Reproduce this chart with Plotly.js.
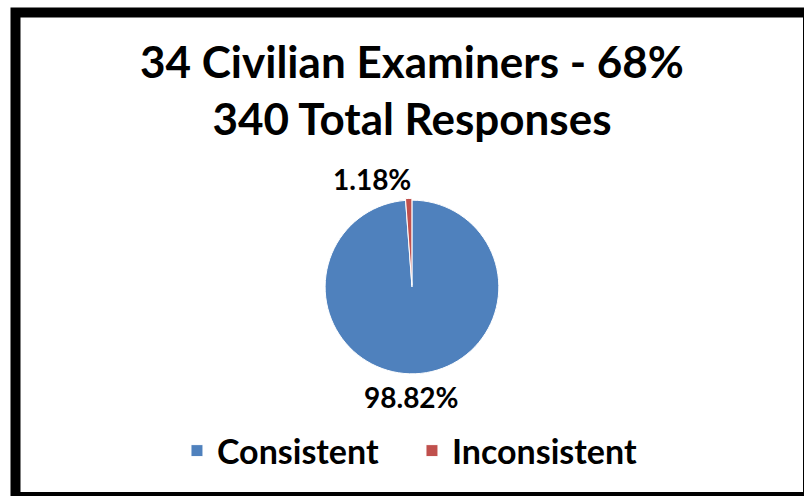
<!DOCTYPE html>
<html>
<head>
<meta charset="utf-8">
<script src="https://cdn.plot.ly/plotly-3.0.1.min.js"></script>
<style>
  html, body { margin: 0; padding: 0; background: #ffffff; }
  #chart { width: 804px; height: 496px; }
</style>
</head>
<body>
<div id="chart"></div>
<script>
const categories = ["Consistent", "Inconsistent"];
const responses = [336, 4];
const sliceColors = ["#4F81BD", "#C0504D"];
const titleLines = ["34 Civilian Examiners - 68%", "340 Total Responses"];

const FONT = "Lato, 'Open Sans', sans-serif";

const total = responses.reduce((a, b) => a + b, 0);
const pctText = responses.map(v => (100 * v / total).toFixed(2) + "%");

const trace = {
  type: "pie",
  labels: categories,
  values: responses,
  sort: false,
  direction: "clockwise",
  rotation: 0,
  pull: [0, 0.02],
  marker: { colors: sliceColors, line: { color: "#ffffff", width: 1 } },
  textinfo: "none",
  hoverinfo: "skip",
  domain: { x: [0.4022, 0.6226], y: [0.2428, 0.6000] }
};

const labelFont = { family: FONT, size: 28, color: "#000000", weight: "bold" };

const layout = {
  width: 804,
  height: 496,
  margin: { l: 0, r: 0, t: 0, b: 0 },
  paper_bgcolor: "#ffffff",
  plot_bgcolor: "#ffffff",
  title: {
    text: titleLines.join("<br>"),
    font: { family: FONT, size: 44, color: "#000000", weight: "bold" },
    x: 0.5124,
    xanchor: "center",
    y: 0.843,
    yanchor: "top",
    yref: "container"
  },
  showlegend: true,
  legend: {
    orientation: "h",
    x: 0.5124,
    xanchor: "center",
    y: 0.0907,
    yanchor: "middle",
    entrywidth: 190,
    entrywidthmode: "pixels",
    font: { family: FONT, size: 34, color: "#000000", weight: "bold" },
    bgcolor: "rgba(0,0,0,0)"
  },
  annotations: [
    { text: pctText[1], xref: "paper", yref: "paper", x: 372 / 804, y: 1 - 179 / 496,
      xanchor: "center", yanchor: "middle", showarrow: false, font: labelFont },
    { text: pctText[0], xref: "paper", yref: "paper", x: 411 / 804, y: 1 - 397 / 496,
      xanchor: "center", yanchor: "middle", showarrow: false, font: labelFont }
  ],
  shapes: [
    {
      type: "rect",
      xref: "paper", yref: "paper",
      x0: 15.5 / 804, x1: 808 / 804,
      y0: 1 - 12.5 / 496, y1: 1 - 497 / 496,
      line: { color: "#000000", width: 10 },
      fillcolor: "rgba(0,0,0,0)",
      layer: "above"
    }
  ]
};

Plotly.newPlot("chart", [trace], layout, { displayModeBar: false, staticPlot: true });
</script>
</body>
</html>
